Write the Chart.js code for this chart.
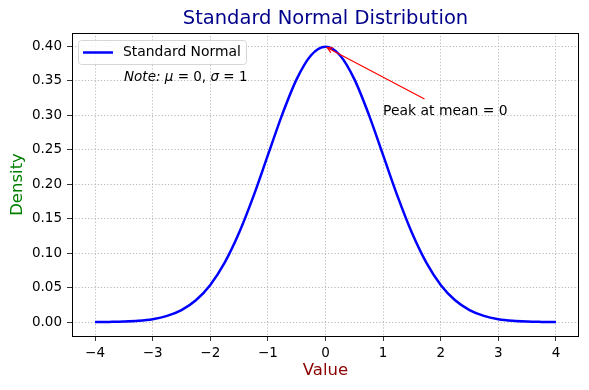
<!DOCTYPE html>
<html>
<head>
<meta charset="utf-8">
<script src="https://cdn.jsdelivr.net/npm/chart.js@4.4.1/dist/chart.umd.min.js"></script>
<style>
  html, body { margin: 0; padding: 0; background: #fff; }
  #wrap { width: 589px; height: 390px; }
</style>
</head>
<body>
<div id="wrap"><canvas id="grafico" width="589" height="390"></canvas></div>
<script>
// valores (x de -4 a 4, passo 0.25)
const valoresX = [-4, -3.75, -3.5, -3.25, -3, -2.75, -2.5, -2.25, -2, -1.75, -1.5, -1.25, -1, -0.75, -0.5, -0.25,
  0, 0.25, 0.5, 0.75, 1, 1.25, 1.5, 1.75, 2, 2.25, 2.5, 2.75, 3, 3.25, 3.5, 3.75, 4];
const densidade = [0.0001, 0.0004, 0.0009, 0.0020, 0.0044, 0.0091, 0.0175, 0.0317, 0.0540, 0.0863, 0.1295, 0.1826,
  0.2420, 0.3011, 0.3521, 0.3867, 0.3989, 0.3867, 0.3521, 0.3011, 0.2420, 0.1826, 0.1295, 0.0863, 0.0540, 0.0317,
  0.0175, 0.0091, 0.0044, 0.0020, 0.0009, 0.0004, 0.0001];
const ticksX = [-4, -3, -2, -1, 0, 1, 2, 3, 4];
const ticksY = [0, 0.05, 0.10, 0.15, 0.20, 0.25, 0.30, 0.35, 0.40];
const nomeSerie = "Standard Normal";
const titulo = "Standard Normal Distribution";
const rotuloX = "Value";
const rotuloY = "Density";
const pontoPico = [0, 0.3989];
const textoPico = "Peak at mean = 0";
const posTextoPico = [1, 0.3];

const FONTE = "'DejaVu Sans', sans-serif";
const menos = v => String(v).replace("-", "\u2212");

const extras = {
  id: "extras",
  afterDraw(chart) {
    const ctx = chart.ctx;
    const a = chart.chartArea;
    const sx = chart.scales.x, sy = chart.scales.y;
    ctx.save();

    // moldura
    ctx.strokeStyle = "#000";
    ctx.lineWidth = 1;
    ctx.strokeRect(Math.round(a.left) + 0.5, Math.round(a.top) + 0.5,
      Math.round(a.right - a.left) - 1, Math.round(a.bottom - a.top));

    // titulos
    ctx.textAlign = "center";
    ctx.textBaseline = "middle";
    ctx.fillStyle = "#00008B";
    ctx.font = "19.5px " + FONTE;
    ctx.fillText(titulo, (a.left + a.right) / 2, 19);
    ctx.fillStyle = "#8B0000";
    ctx.font = "16.5px " + FONTE;
    ctx.fillText(rotuloX, (a.left + a.right) / 2, 371);
    ctx.save();
    ctx.translate(18, (a.top + a.bottom) / 2);
    ctx.rotate(-Math.PI / 2);
    ctx.fillStyle = "#008000";
    ctx.fillText(rotuloY, 0, 0);
    ctx.restore();

    // legenda
    const lx = a.left + 6, ly = a.top + 7, lw = 168, lh = 24;
    ctx.beginPath();
    ctx.roundRect(lx + 0.5, ly + 0.5, lw, lh, 3);
    ctx.fillStyle = "rgba(255,255,255,0.8)";
    ctx.fill();
    ctx.strokeStyle = "#d6d6d6";
    ctx.lineWidth = 1;
    ctx.stroke();
    ctx.beginPath();
    ctx.moveTo(lx + 5, ly + 12.5);
    ctx.lineTo(lx + 35, ly + 12.5);
    ctx.strokeStyle = "#0000ff";
    ctx.lineWidth = 2.5;
    ctx.stroke();
    ctx.fillStyle = "#000";
    ctx.textAlign = "left";
    ctx.font = "13.9px " + FONTE;
    ctx.fillText(nomeSerie, lx + 45, ly + 12.5);

    // nota
    const partes = [["Note: ", "italic"], ["\u03bc", "italic"], [" = 0, ", ""], ["\u03c3", "italic"], [" = 1", ""]];
    let nx = lx + 46;
    ctx.textBaseline = "alphabetic";
    partes.forEach(([t, est]) => {
      ctx.font = (est ? est + " " : "") + "13.5px " + FONTE;
      ctx.fillText(t, nx, 81);
      nx += ctx.measureText(t).width;
    });

    // anotacao do pico
    const tx = sx.getPixelForValue(posTextoPico[0]);
    const ty = sy.getPixelForValue(posTextoPico[1]);
    ctx.font = "13.9px " + FONTE;
    ctx.fillText(textoPico, tx, ty);
    const larg = ctx.measureText(textoPico).width;
    const cx = tx + larg / 2, cy = ty - 5;
    const px = sx.getPixelForValue(pontoPico[0]);
    const py = sy.getPixelForValue(pontoPico[1]);
    const topoCaixa = ty - 16;
    const t0 = (cy - topoCaixa) / (cy - py);
    const x0 = cx + (px - cx) * t0, y0 = topoCaixa;
    const ang = Math.atan2(py - y0, px - x0);
    const x1 = px - 2 * Math.cos(ang), y1 = py - 2 * Math.sin(ang);
    ctx.strokeStyle = "#ff0000";
    ctx.lineWidth = 1.2;
    ctx.beginPath();
    ctx.moveTo(x0, y0);
    ctx.lineTo(x1, y1);
    ctx.moveTo(x1 - 6 * Math.cos(ang - 0.45), y1 - 6 * Math.sin(ang - 0.45));
    ctx.lineTo(x1, y1);
    ctx.lineTo(x1 - 6 * Math.cos(ang + 0.45), y1 - 6 * Math.sin(ang + 0.45));
    ctx.stroke();

    ctx.restore();
  }
};

const eixoComum = {
  border: { display: false, dash: [1.2, 2] },
  grid: { color: "#a8a8a8", lineWidth: 0.8, tickLength: 5, tickColor: "#000", drawTicks: true },
  ticks: { color: "#000", font: { family: FONTE, size: 13.5 }, padding: 4, autoSkip: false, maxRotation: 0 }
};

new Chart(document.getElementById("grafico"), {
  type: "line",
  data: {
    datasets: [{
      label: nomeSerie,
      data: valoresX.map((x, i) => ({ x: x, y: densidade[i] })),
      borderColor: "#0000ff",
      borderWidth: 2.5,
      pointRadius: 0,
      cubicInterpolationMode: "monotone",
      fill: false
    }]
  },
  options: {
    responsive: false,
    animation: false,
    layout: { padding: { top: 33, right: 10, bottom: 0, left: 0 } },
    plugins: { legend: { display: false }, tooltip: { enabled: false }, title: { display: false } },
    scales: {
      x: {
        ...eixoComum,
        type: "linear",
        min: -4.4,
        max: 4.4,
        afterFit: s => { s.height = 54; },
        afterBuildTicks: s => { s.ticks = ticksX.map(v => ({ value: v })); },
        ticks: { ...eixoComum.ticks, callback: v => menos(v) }
      },
      y: {
        ...eixoComum,
        type: "linear",
        min: -0.02,
        max: 0.4189,
        afterFit: s => { s.width = 72; },
        afterBuildTicks: s => { s.ticks = ticksY.map(v => ({ value: v })); },
        ticks: { ...eixoComum.ticks, padding: 5, callback: v => v.toFixed(2) }
      }
    }
  },
  plugins: [extras]
});
</script>
</body>
</html>
